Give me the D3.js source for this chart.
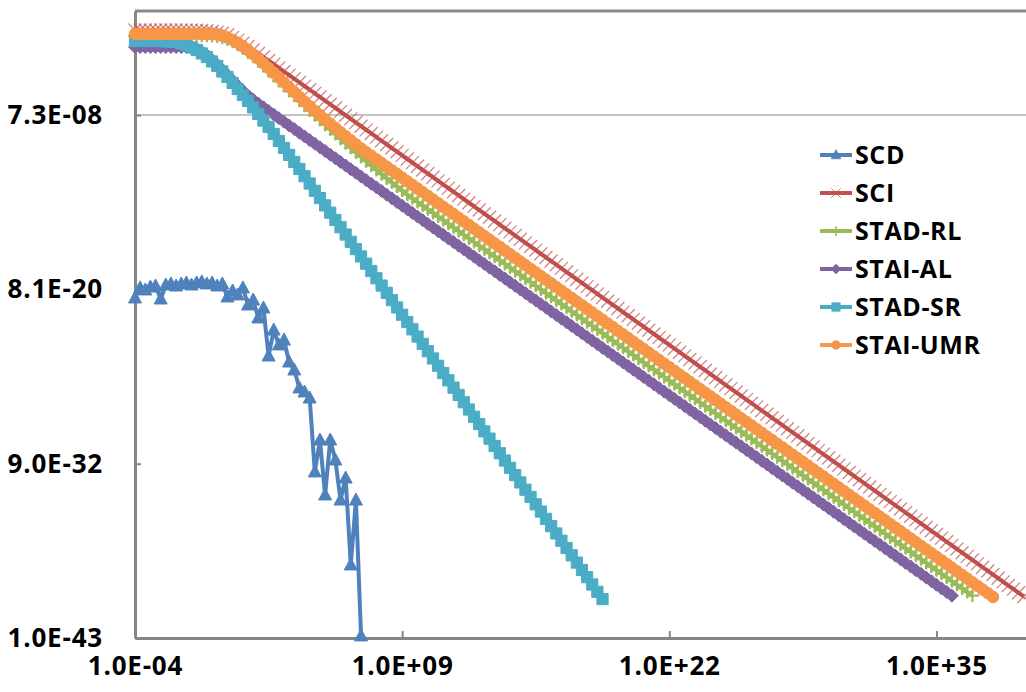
<!DOCTYPE html>
<html><head><meta charset="utf-8">
<script src="https://cdn.jsdelivr.net/npm/d3@7"></script>
<style>
body{margin:0;background:#fff;}
svg text{font-family:"Open Sans","Liberation Sans",sans-serif;font-weight:700;fill:#000;}
</style>
</head><body>
<svg id="chart" width="1026" height="692"></svg>
<script>
// log10 of x for each sample point (shared by all series)
const xExp = [
-4,-3.75,-3.5,-3.25,-3,-2.75,-2.5,-2.25,-2,-1.75,-1.5,-1.25,-1,-0.75,-0.5,-0.25,
0,0.25,0.5,0.75,1,1.25,1.5,1.75,2,2.25,2.5,2.75,3,3.25,3.5,3.75,
4,4.25,4.5,4.75,5,5.25,5.5,5.75,6,6.25,6.5,6.75,7,7.25,7.5,7.75,
8,8.25,8.5,8.75,9,9.25,9.5,9.75,10,10.25,10.5,10.75,11,11.25,11.5,11.75,
12,12.25,12.5,12.75,13,13.25,13.5,13.75,14,14.25,14.5,14.75,15,15.25,15.5,15.75,
16,16.25,16.5,16.75,17,17.25,17.5,17.75,18,18.25,18.5,18.75,19,19.25,19.5,19.75,
20,20.25,20.5,20.75,21,21.25,21.5,21.75,22,22.25,22.5,22.75,23,23.25,23.5,23.75,
24,24.25,24.5,24.75,25,25.25,25.5,25.75,26,26.25,26.5,26.75,27,27.25,27.5,27.75,
28,28.25,28.5,28.75,29,29.25,29.5,29.75,30,30.25,30.5,30.75,31,31.25,31.5,31.75,
32,32.25,32.5,32.75,33,33.25,33.5,33.75,34,34.25,34.5,34.75,35,35.25,35.5,35.75,
36,36.25,36.5,36.75,37,37.25,37.5,37.75,38,38.25,38.5,38.75,39,39.25
];

// log10 of y for each series
const scdLog = [
-19.68,-18.99,-19.13,-18.93,-18.86,-19.75,-18.79,-18.72,-18.86,-18.72,-18.65,-18.79,-18.65,-18.58,-18.72,-18.65,
-18.86,-18.72,-19.61,-19.20,-19.47,-18.99,-20.16,-19.82,-21.05,-20.37,-23.66,-21.88,-22.90,-22.56,-24.07,-24.62,
-25.85,-26.13,-26.54,-31.61,-29.42,-33.19,-29.42,-30.79,-33.54,-32.03,-37.99,-33.54,-42.86
];
const sciLog = [
-1.3,-1.3,-1.3,-1.3,-1.3,-1.3,-1.3,-1.3,-1.3,-1.3,-1.31,-1.31,-1.32,-1.33,-1.35,-1.39,
-1.45,-1.53,-1.65,-1.81,-2.0,-2.21,-2.43,-2.67,-2.91,-3.16,-3.4,-3.65,-3.9,-4.15,-4.4,-4.65,
-4.9,-5.15,-5.4,-5.65,-5.9,-6.15,-6.4,-6.65,-6.9,-7.15,-7.4,-7.65,-7.9,-8.15,-8.4,-8.65,
-8.9,-9.15,-9.4,-9.65,-9.9,-10.15,-10.4,-10.65,-10.9,-11.15,-11.4,-11.65,-11.9,-12.15,-12.4,-12.65,
-12.9,-13.15,-13.4,-13.65,-13.9,-14.15,-14.4,-14.65,-14.9,-15.15,-15.4,-15.65,-15.9,-16.15,-16.4,-16.65,
-16.9,-17.15,-17.4,-17.65,-17.9,-18.15,-18.4,-18.65,-18.9,-19.15,-19.4,-19.65,-19.9,-20.15,-20.4,-20.65,
-20.9,-21.15,-21.4,-21.65,-21.9,-22.15,-22.4,-22.65,-22.9,-23.15,-23.4,-23.65,-23.9,-24.15,-24.4,-24.65,
-24.9,-25.15,-25.4,-25.65,-25.9,-26.15,-26.4,-26.65,-26.9,-27.15,-27.4,-27.65,-27.9,-28.15,-28.4,-28.65,
-28.9,-29.15,-29.4,-29.65,-29.9,-30.15,-30.4,-30.65,-30.9,-31.15,-31.4,-31.65,-31.9,-32.15,-32.4,-32.65,
-32.9,-33.15,-33.4,-33.65,-33.9,-34.15,-34.4,-34.65,-34.9,-35.15,-35.4,-35.65,-35.9,-36.15,-36.4,-36.65,
-36.9,-37.15,-37.4,-37.65,-37.9,-38.15,-38.4,-38.65,-38.9,-39.15,-39.4,-39.65,-39.9,-40.15
];
const stadRlLog = [
-1.7,-1.7,-1.7,-1.7,-1.7,-1.7,-1.7,-1.7,-1.7,-1.7,-1.7,-1.7,-1.7,-1.7,-1.7,-1.71,
-1.75,-1.83,-1.95,-2.11,-2.32,-2.57,-2.84,-3.13,-3.44,-3.78,-4.12,-4.46,-4.8,-5.14,-5.48,-5.82,
-6.16,-6.49,-6.82,-7.15,-7.47,-7.8,-8.12,-8.44,-8.76,-9.07,-9.38,-9.69,-10.0,-10.3,-10.6,-10.9,
-11.19,-11.48,-11.76,-12.04,-12.32,-12.6,-12.85,-13.1,-13.35,-13.6,-13.85,-14.1,-14.35,-14.6,-14.85,-15.1,
-15.35,-15.6,-15.85,-16.1,-16.35,-16.6,-16.85,-17.1,-17.35,-17.6,-17.85,-18.1,-18.35,-18.6,-18.85,-19.1,
-19.35,-19.6,-19.85,-20.1,-20.35,-20.6,-20.85,-21.1,-21.35,-21.6,-21.85,-22.1,-22.35,-22.6,-22.85,-23.1,
-23.35,-23.6,-23.85,-24.1,-24.35,-24.6,-24.85,-25.1,-25.35,-25.6,-25.85,-26.1,-26.35,-26.6,-26.85,-27.1,
-27.35,-27.6,-27.85,-28.1,-28.35,-28.6,-28.85,-29.1,-29.35,-29.6,-29.85,-30.1,-30.35,-30.6,-30.85,-31.1,
-31.35,-31.6,-31.85,-32.1,-32.35,-32.6,-32.85,-33.1,-33.35,-33.6,-33.85,-34.1,-34.35,-34.6,-34.85,-35.1,
-35.35,-35.6,-35.85,-36.1,-36.35,-36.6,-36.85,-37.1,-37.35,-37.6,-37.85,-38.1,-38.35,-38.6,-38.85,-39.1,
-39.35,-39.6,-39.85,-40.1
];
const staiAlLog = [
-2.47,-2.47,-2.47,-2.47,-2.47,-2.47,-2.47,-2.47,-2.47,-2.47,-2.47,-2.5,-2.6,-2.8,-3.05,-3.35,
-3.68,-4.03,-4.4,-4.77,-5.13,-5.47,-5.8,-6.08,-6.35,-6.6,-6.85,-7.1,-7.35,-7.6,-7.85,-8.1,
-8.35,-8.6,-8.85,-9.1,-9.35,-9.6,-9.85,-10.1,-10.35,-10.6,-10.85,-11.1,-11.35,-11.6,-11.85,-12.1,
-12.35,-12.6,-12.85,-13.1,-13.35,-13.6,-13.85,-14.1,-14.35,-14.6,-14.85,-15.1,-15.35,-15.6,-15.85,-16.1,
-16.35,-16.6,-16.85,-17.1,-17.35,-17.6,-17.85,-18.1,-18.35,-18.6,-18.85,-19.1,-19.35,-19.6,-19.85,-20.1,
-20.35,-20.6,-20.85,-21.1,-21.35,-21.6,-21.85,-22.1,-22.35,-22.6,-22.85,-23.1,-23.35,-23.6,-23.85,-24.1,
-24.35,-24.6,-24.85,-25.1,-25.35,-25.6,-25.85,-26.1,-26.35,-26.6,-26.85,-27.1,-27.35,-27.6,-27.85,-28.1,
-28.35,-28.6,-28.85,-29.1,-29.35,-29.6,-29.85,-30.1,-30.35,-30.6,-30.85,-31.1,-31.35,-31.6,-31.85,-32.1,
-32.35,-32.6,-32.85,-33.1,-33.35,-33.6,-33.85,-34.1,-34.35,-34.6,-34.85,-35.1,-35.35,-35.6,-35.85,-36.1,
-36.35,-36.6,-36.85,-37.1,-37.35,-37.6,-37.85,-38.1,-38.35,-38.6,-38.85,-39.1,-39.35,-39.6,-39.85,-40.1
];
const stadSrLog = [
-2.05,-2.05,-2.05,-2.05,-2.05,-2.06,-2.08,-2.1,-2.12,-2.22,-2.33,-2.5,-2.67,-2.91,-3.15,-3.46,
-3.77,-4.15,-4.52,-4.93,-5.35,-5.76,-6.17,-6.61,-7.06,-7.51,-7.95,-8.43,-8.91,-9.39,-9.87,-10.35,
-10.83,-11.33,-11.83,-12.33,-12.83,-13.33,-13.83,-14.33,-14.83,-15.33,-15.83,-16.33,-16.83,-17.33,-17.83,-18.33,
-18.83,-19.33,-19.83,-20.33,-20.83,-21.33,-21.83,-22.33,-22.83,-23.33,-23.83,-24.33,-24.83,-25.33,-25.83,-26.33,
-26.83,-27.33,-27.83,-28.33,-28.83,-29.33,-29.83,-30.33,-30.83,-31.33,-31.83,-32.33,-32.83,-33.33,-33.83,-34.33,
-34.83,-35.33,-35.83,-36.33,-36.83,-37.33,-37.83,-38.33,-38.83,-39.33,-39.83,-40.33
];
const staiUmrLog = [
-1.57,-1.57,-1.57,-1.57,-1.57,-1.57,-1.57,-1.57,-1.57,-1.57,-1.57,-1.57,-1.57,-1.57,-1.57,-1.58,
-1.62,-1.7,-1.82,-1.98,-2.17,-2.42,-2.68,-2.96,-3.26,-3.58,-3.91,-4.24,-4.57,-4.9,-5.23,-5.56,
-5.89,-6.21,-6.53,-6.84,-7.14,-7.44,-7.73,-8.02,-8.31,-8.59,-8.87,-9.15,-9.43,-9.68,-9.93,-10.18,
-10.43,-10.68,-10.93,-11.18,-11.43,-11.68,-11.93,-12.18,-12.43,-12.68,-12.93,-13.18,-13.43,-13.68,-13.93,-14.18,
-14.43,-14.68,-14.93,-15.18,-15.43,-15.68,-15.93,-16.18,-16.43,-16.68,-16.93,-17.18,-17.43,-17.68,-17.93,-18.18,
-18.43,-18.68,-18.93,-19.18,-19.43,-19.68,-19.93,-20.18,-20.43,-20.68,-20.93,-21.18,-21.43,-21.68,-21.93,-22.18,
-22.43,-22.68,-22.93,-23.18,-23.43,-23.68,-23.93,-24.18,-24.43,-24.68,-24.93,-25.18,-25.43,-25.68,-25.93,-26.18,
-26.43,-26.68,-26.93,-27.18,-27.43,-27.68,-27.93,-28.18,-28.43,-28.68,-28.93,-29.18,-29.43,-29.68,-29.93,-30.18,
-30.43,-30.68,-30.93,-31.18,-31.43,-31.68,-31.93,-32.18,-32.43,-32.68,-32.93,-33.18,-33.43,-33.68,-33.93,-34.18,
-34.43,-34.68,-34.93,-35.18,-35.43,-35.68,-35.93,-36.18,-36.43,-36.68,-36.93,-37.18,-37.43,-37.68,-37.93,-38.18,
-38.43,-38.68,-38.93,-39.18,-39.43,-39.68,-39.93,-40.18
];

const seriesNames = ["SCD","SCI","STAD-RL","STAI-AL","STAD-SR","STAI-UMR"];
const xTickValues = [1e-4, 1e9, 1e22, 1e35];
const xTickLabels = ["1.0E-04","1.0E+09","1.0E+22","1.0E+35"];
const yTickValues = [1e-43, 9e-32, 8.1e-20, 7.29e-8];
const yTickLabels = ["1.0E-43","9.0E-32","8.1E-20","7.3E-08"];

// ---------- layout ----------
const svg = d3.select("#chart");
const L = 135, B = 638, T = 11;
const x = d3.scaleLog().domain([1e-4, 1e48]).range([L, L + 52 * 20.55]);
const y = d3.scaleLog().domain([1e-43, 1]).range([B, T]);
const W = 1026;

const styles = [
  {color:"#4F81BD", marker:"triangle"},
  {color:"#C0504D", marker:"x"},
  {color:"#9BBB59", marker:"plus"},
  {color:"#8064A2", marker:"diamond"},
  {color:"#4BACC6", marker:"square"},
  {color:"#F79646", marker:"circle"}
];
const logs = [scdLog, sciLog, stadRlLog, staiAlLog, stadSrLog, staiUmrLog];
const series = seriesNames.map((name, s) => ({
  name, ...styles[s],
  points: logs[s].map((e, i) => ({x: Math.pow(10, xExp[i]), y: Math.pow(10, e)}))
}));

// gridline at the upper tick and top border
svg.append("line").attr("x1", L).attr("x2", W).attr("y1", y(yTickValues[3])).attr("y2", y(yTickValues[3]))
  .attr("stroke", "#c4c4c4").attr("stroke-width", 2);
svg.append("line").attr("x1", L).attr("x2", W).attr("y1", y(1)).attr("y2", y(1))
  .attr("stroke", "#8a8a8a").attr("stroke-width", 3);

// axes
const yAxis = d3.axisLeft(y).tickValues(yTickValues)
  .tickFormat((d, i) => yTickLabels[i]).tickSizeInner(-6).tickSizeOuter(0).tickPadding(32);
const xAxis = d3.axisBottom(x).tickValues(xTickValues)
  .tickFormat((d, i) => xTickLabels[i]).tickSizeInner(-7).tickSizeOuter(0).tickPadding(19);

function styleAxis(g) {
  g.select(".domain").attr("stroke", "#868686").attr("stroke-width", 3);
  g.selectAll(".tick line").attr("stroke", "#868686").attr("stroke-width", 2);
  g.selectAll(".tick text").attr("font-size", 26).attr("letter-spacing", "0.8px")
    .attr("font-family", "'Open Sans','Liberation Sans',sans-serif").attr("font-weight", 700).attr("fill", "#000");
}
svg.append("g").attr("transform", `translate(${L},0)`).call(yAxis).call(styleAxis);
svg.append("g").attr("transform", `translate(0,${B})`).call(xAxis).call(styleAxis);

// marker drawing (k = scale factor)
function drawMarker(sel, type, color, k) {
  const p = sel.append("path").attr("transform", `scale(${k})`);
  if (type === "triangle") {
    p.attr("d", "M0,-7L6.5,5L-6.5,5Z").attr("fill", color).attr("stroke", color).attr("stroke-width", 1);
  } else if (type === "square") {
    p.attr("d", "M-5.6,-5.6H5.6V5.6H-5.6Z").attr("fill", color).attr("stroke", color).attr("stroke-width", 1);
  } else if (type === "diamond") {
    p.attr("d", "M0,-6.5L6.5,0L0,6.5L-6.5,0Z").attr("fill", color).attr("stroke", color).attr("stroke-width", 1);
  } else if (type === "circle") {
    p.attr("d", "M-5.8,0A5.8,5.8 0 1,0 5.8,0A5.8,5.8 0 1,0 -5.8,0Z").attr("fill", color).attr("stroke", color).attr("stroke-width", 1);
  } else if (type === "x") {
    p.attr("d", "M-6.5,-6.5L6.5,6.5M-6.5,6.5L6.5,-6.5").attr("fill", "none").attr("stroke", color).attr("stroke-width", 1.3).attr("stroke-opacity", 0.7);
  } else if (type === "plus") {
    p.attr("d", "M-6.5,0H6.5M0,-6.5V6.5").attr("fill", "none").attr("stroke", color).attr("stroke-width", 2.2);
  }
}

const line = d3.line().x(d => x(d.x)).y(d => y(d.y));
series.forEach(s => {
  const g = svg.append("g");
  g.append("path").datum(s.points).attr("d", line)
    .attr("fill", "none").attr("stroke", s.color).attr("stroke-width", 4).attr("stroke-linejoin", "round");
  g.selectAll("g.m").data(s.points).join("g").attr("class", "m")
    .attr("transform", d => `translate(${x(d.x)},${y(d.y)})`)
    .each(function() { drawMarker(d3.select(this), s.marker, s.color, 1); });
});

// legend
const lg = svg.append("g");
series.forEach((s, i) => {
  const cy = 155 + i * 38;
  const e = lg.append("g").attr("transform", `translate(0,${cy})`);
  e.append("line").attr("x1", 820).attr("x2", 852).attr("y1", 0).attr("y2", 0).attr("stroke", s.color).attr("stroke-width", 4);
  drawMarker(e.append("g").attr("transform", "translate(836,0)"), s.marker, s.color, 0.75);
  e.append("text").attr("x", 855).attr("y", 0).attr("dy", "0.36em").attr("font-size", 25).attr("letter-spacing", "0.6px").text(s.name);
});
</script>
</body></html>
